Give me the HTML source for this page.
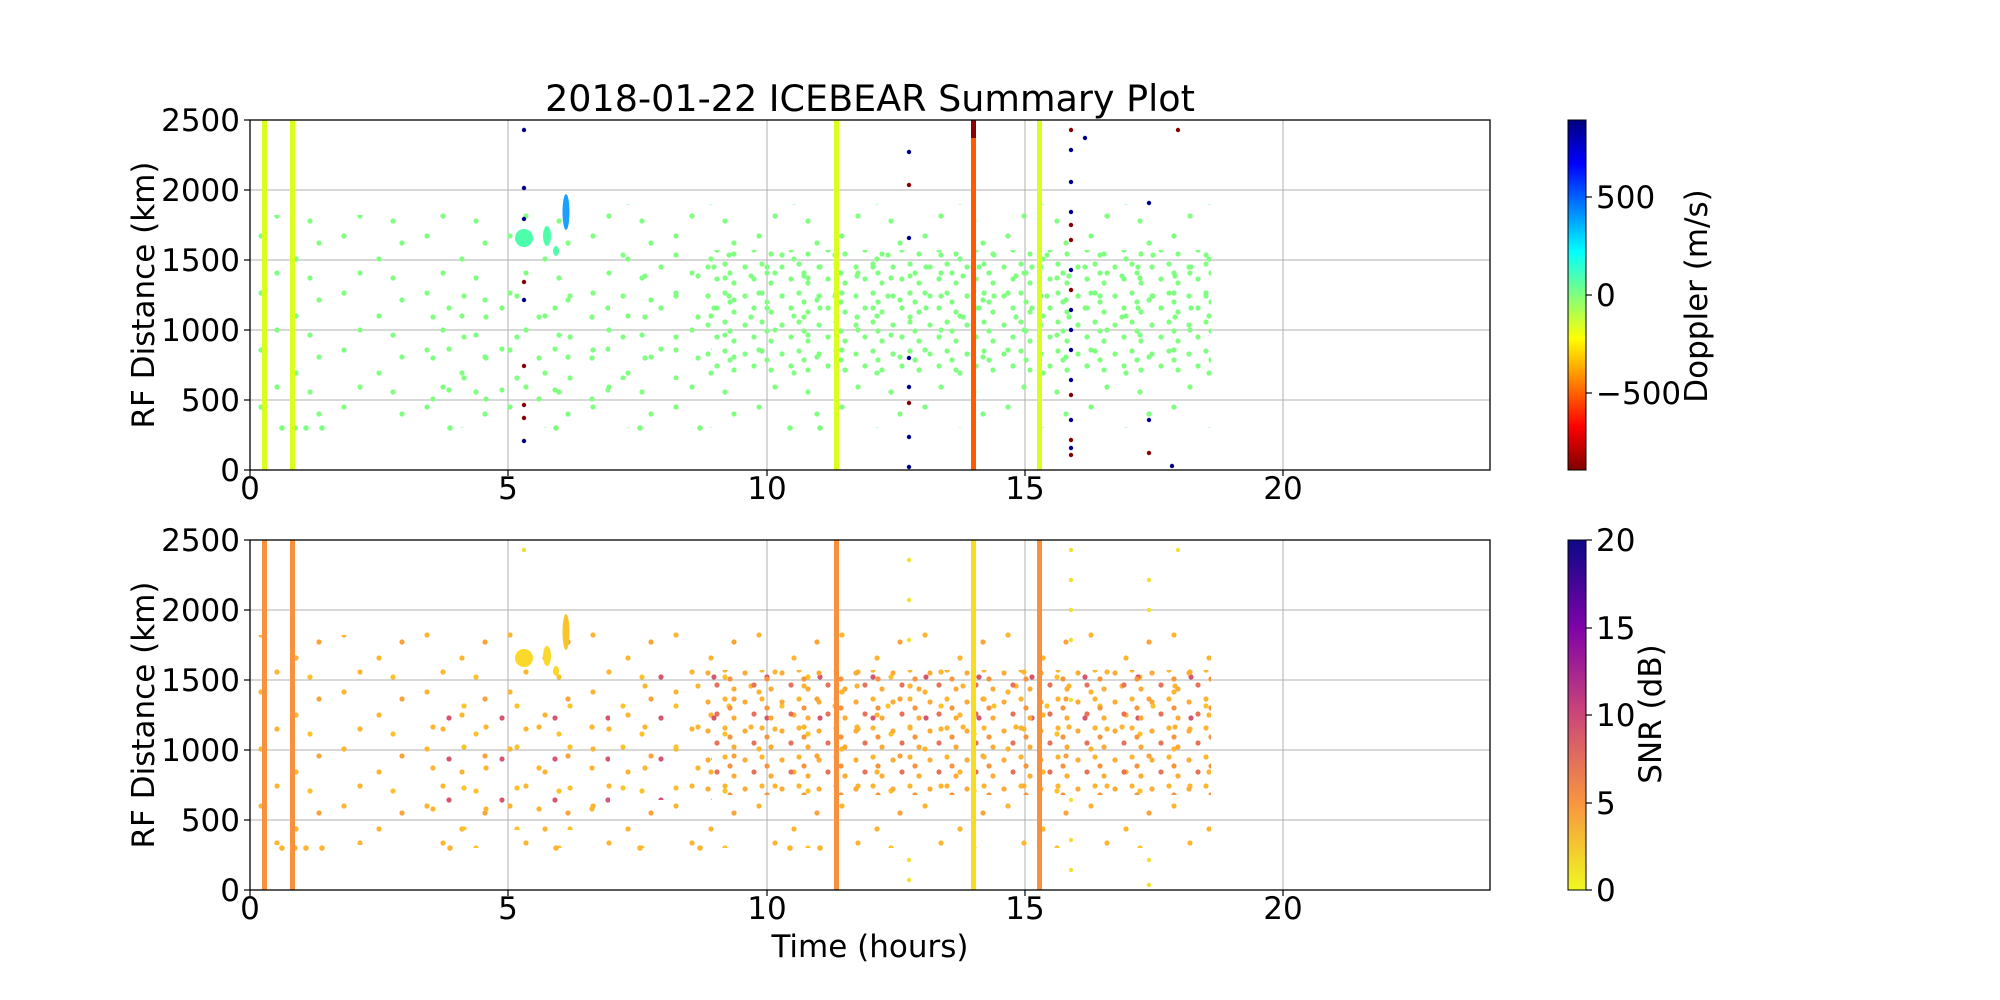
<!DOCTYPE html>
<html><head><meta charset="utf-8"><style>
html,body{margin:0;padding:0;background:#fff;}
svg{display:block;font-family:"DejaVu Sans","Liberation Sans",sans-serif;}
</style></head><body>
<svg width="2000" height="1000" viewBox="0 0 2000 1000" xmlns="http://www.w3.org/2000/svg">
<defs>
<linearGradient id="jet" x1="0" y1="0" x2="0" y2="1">
<stop offset="0" stop-color="#00007f"/><stop offset="0.125" stop-color="#0000ff"/><stop offset="0.375" stop-color="#00ffff"/><stop offset="0.5" stop-color="#7fff7f"/><stop offset="0.625" stop-color="#ffff00"/><stop offset="0.875" stop-color="#ff0000"/><stop offset="1" stop-color="#7f0000"/>
</linearGradient>
<linearGradient id="pl" x1="0" y1="0" x2="0" y2="1">
<stop offset="0" stop-color="#0d0887"/><stop offset="0.25" stop-color="#7e03a8"/><stop offset="0.5" stop-color="#cc4778"/><stop offset="0.75" stop-color="#f89540"/><stop offset="1" stop-color="#f0f921"/>
</linearGradient>
<pattern id="g1" patternUnits="userSpaceOnUse" width="83" height="57">
<g fill="#7fff7f"><circle cx="12" cy="8" r="2.6"/><circle cx="47" cy="31" r="2.6"/><circle cx="70" cy="15" r="2.6"/><circle cx="28" cy="45" r="2.6"/><circle cx="61" cy="50" r="2.6"/></g></pattern>
<pattern id="g2" patternUnits="userSpaceOnUse" width="37" height="29">
<g fill="#7fff7f"><circle cx="5" cy="6" r="2.6"/><circle cx="22" cy="3" r="2.6"/><circle cx="14" cy="18" r="2.6"/><circle cx="31" cy="22" r="2.6"/><circle cx="27" cy="12" r="2.6"/></g></pattern>
<pattern id="g3" patternUnits="userSpaceOnUse" width="53" height="41">
<g fill="#7fff7f"><circle cx="9" cy="30" r="2.6"/><circle cx="40" cy="9" r="2.6"/><circle cx="25" cy="21" r="2.6"/></g></pattern>
<pattern id="o1" patternUnits="userSpaceOnUse" width="83" height="57">
<g fill="#fdb42f"><circle cx="12" cy="8" r="2.6"/><circle cx="47" cy="31" r="2.6"/><circle cx="70" cy="15" r="2.6" fill="#fba238"/><circle cx="28" cy="45" r="2.6"/><circle cx="61" cy="50" r="2.6" fill="#fcc228"/></g></pattern>
<pattern id="o2" patternUnits="userSpaceOnUse" width="37" height="29">
<g fill="#fcab34"><circle cx="5" cy="6" r="2.6"/><circle cx="22" cy="3" r="2.6" fill="#fdb42f"/><circle cx="14" cy="18" r="2.6" fill="#e8715a"/><circle cx="31" cy="22" r="2.6"/><circle cx="27" cy="12" r="2.6" fill="#f7953f"/></g></pattern>
<pattern id="o3" patternUnits="userSpaceOnUse" width="53" height="41">
<g fill="#fdb42f"><circle cx="9" cy="30" r="2.6"/><circle cx="40" cy="9" r="2.6" fill="#fcc228"/><circle cx="25" cy="21" r="2.6" fill="#d65670"/></g></pattern>
</defs>
<g stroke="#b0b0b0" stroke-width="1">
<line x1="508" x2="508" y1="120" y2="470"/><line x1="767" x2="767" y1="120" y2="470"/><line x1="1025" x2="1025" y1="120" y2="470"/><line x1="1283" x2="1283" y1="120" y2="470"/>
<line x1="250" x2="1490" y1="400" y2="400"/><line x1="250" x2="1490" y1="330" y2="330"/><line x1="250" x2="1490" y1="260" y2="260"/><line x1="250" x2="1490" y1="190" y2="190"/>
<line x1="508" x2="508" y1="540" y2="890"/><line x1="767" x2="767" y1="540" y2="890"/><line x1="1025" x2="1025" y1="540" y2="890"/><line x1="1283" x2="1283" y1="540" y2="890"/>
<line x1="250" x2="1490" y1="820" y2="820"/><line x1="250" x2="1490" y1="750" y2="750"/><line x1="250" x2="1490" y1="680" y2="680"/><line x1="250" x2="1490" y1="610" y2="610"/>
</g>
<!-- top scatter -->
<rect x="250" y="215" width="155" height="210" fill="url(#g1)"/>
<rect x="405" y="210" width="207" height="218" fill="url(#g1)"/>
<rect x="430" y="280" width="180" height="130" fill="url(#g3)"/>
<rect x="612" y="204" width="599" height="224" fill="url(#g1)"/>
<rect x="612" y="250" width="599" height="70" fill="url(#g3)"/>
<rect x="700" y="250" width="511" height="125" fill="url(#g2)"/>
<rect x="612" y="310" width="100" height="70" fill="url(#g3)"/>
<g fill="#7fff7f"><circle cx="282" cy="428" r="2.8"/><circle cx="295" cy="428" r="2.8"/><circle cx="306" cy="428" r="2.8"/><circle cx="322" cy="428" r="2.8"/><circle cx="450" cy="428" r="2.8"/><circle cx="556" cy="428" r="2.8"/><circle cx="640" cy="428" r="2.8"/><circle cx="700" cy="428" r="2.8"/><circle cx="790" cy="428" r="2.8"/><circle cx="820" cy="428" r="2.8"/></g>
<!-- bottom scatter -->
<rect x="250" y="635" width="155" height="210" fill="url(#o1)"/>
<rect x="405" y="630" width="207" height="218" fill="url(#o1)"/>
<rect x="430" y="700" width="180" height="130" fill="url(#o3)"/>
<rect x="612" y="624" width="599" height="224" fill="url(#o1)"/>
<rect x="612" y="670" width="599" height="70" fill="url(#o3)"/>
<rect x="700" y="670" width="511" height="125" fill="url(#o2)"/>
<rect x="612" y="730" width="100" height="70" fill="url(#o3)"/>
<g fill="#fdb42f"><circle cx="282" cy="848" r="2.8"/><circle cx="295" cy="848" r="2.8"/><circle cx="306" cy="848" r="2.8"/><circle cx="322" cy="848" r="2.8"/><circle cx="450" cy="848" r="2.8"/><circle cx="556" cy="848" r="2.8"/><circle cx="640" cy="848" r="2.8"/><circle cx="700" cy="848" r="2.8"/><circle cx="790" cy="848" r="2.8"/><circle cx="820" cy="848" r="2.8"/></g>
<!-- clusters -->
<ellipse cx="524" cy="238" rx="9" ry="9" fill="#4dffaa"/><ellipse cx="547" cy="236" rx="4" ry="10" fill="#4dffaa"/><ellipse cx="556" cy="251" rx="3" ry="5" fill="#4dffaa"/><ellipse cx="566" cy="212" rx="3.5" ry="18" fill="#1aa0ff"/>
<ellipse cx="524" cy="658" rx="9" ry="9" fill="#fbd82a"/><ellipse cx="547" cy="656" rx="4" ry="10" fill="#fbd82a"/><ellipse cx="556" cy="671" rx="3" ry="5" fill="#fbd82a"/><ellipse cx="566" cy="632" rx="3.5" ry="18" fill="#f9c42a"/>
<!-- columns of dots -->
<g fill="#00008f">
<circle cx="524" cy="130" r="2.2"/><circle cx="524" cy="188" r="2.2"/><circle cx="524" cy="219" r="2.2"/><circle cx="524" cy="300" r="2.2"/><circle cx="524" cy="441" r="2.2"/>
<circle cx="909" cy="152" r="2.2"/><circle cx="909" cy="238" r="2.2"/><circle cx="909" cy="358" r="2.2"/><circle cx="909" cy="387" r="2.2"/><circle cx="909" cy="437" r="2.2"/><circle cx="909" cy="467" r="2.2"/>
<circle cx="1071" cy="150" r="2.2"/><circle cx="1071" cy="182" r="2.2"/><circle cx="1071" cy="212" r="2.2"/><circle cx="1071" cy="270" r="2.2"/><circle cx="1071" cy="310" r="2.2"/><circle cx="1071" cy="330" r="2.2"/><circle cx="1071" cy="350" r="2.2"/><circle cx="1071" cy="380" r="2.2"/><circle cx="1071" cy="420" r="2.2"/><circle cx="1071" cy="448" r="2.2"/>
<circle cx="1149" cy="203" r="2.2"/><circle cx="1149" cy="420" r="2.2"/><circle cx="1172" cy="466" r="2.2"/><circle cx="1085" cy="138" r="2.2"/>
</g>
<g fill="#8a0000">
<circle cx="524" cy="282" r="2.2"/><circle cx="524" cy="366" r="2.2"/><circle cx="524" cy="405" r="2.2"/><circle cx="524" cy="418" r="2.2"/>
<circle cx="909" cy="185" r="2.2"/><circle cx="909" cy="403" r="2.2"/>
<circle cx="1071" cy="130" r="2.2"/><circle cx="1071" cy="225" r="2.2"/><circle cx="1071" cy="240" r="2.2"/><circle cx="1071" cy="290" r="2.2"/><circle cx="1071" cy="395" r="2.2"/><circle cx="1071" cy="440" r="2.2"/><circle cx="1071" cy="455" r="2.2"/>
<circle cx="1149" cy="453" r="2.2"/><circle cx="1178" cy="130" r="2.2"/>
</g>
<g fill="#f0e030">
<circle cx="524" cy="550" r="2.2"/><circle cx="909" cy="560" r="2.2"/><circle cx="909" cy="600" r="2.2"/><circle cx="909" cy="640" r="2.2"/><circle cx="909" cy="860" r="2.2"/><circle cx="909" cy="880" r="2.2"/>
<circle cx="1071" cy="550" r="2.2"/><circle cx="1071" cy="580" r="2.2"/><circle cx="1071" cy="610" r="2.2"/><circle cx="1071" cy="640" r="2.2"/><circle cx="1071" cy="700" r="2.2"/><circle cx="1071" cy="800" r="2.2"/><circle cx="1071" cy="840" r="2.2"/><circle cx="1071" cy="870" r="2.2"/>
<circle cx="1149" cy="580" r="2.2"/><circle cx="1149" cy="610" r="2.2"/><circle cx="1149" cy="860" r="2.2"/><circle cx="1149" cy="885" r="2.2"/><circle cx="1178" cy="550" r="2.2"/>
</g>
<!-- vertical lines -->
<g fill="#d8ff1e"><rect x="262" y="120" width="5" height="350"/><rect x="290" y="120" width="5" height="350"/><rect x="834" y="120" width="5" height="350"/><rect x="1037" y="120" width="5" height="350"/></g>
<rect x="971" y="120" width="5" height="350" fill="#ff5a00"/><rect x="971" y="120" width="5" height="18" fill="#8a0000"/>
<g fill="#f7913e"><rect x="262" y="540" width="5" height="350"/><rect x="290" y="540" width="5" height="350"/><rect x="834" y="540" width="5" height="350"/><rect x="1037" y="540" width="5" height="350"/></g>
<rect x="971" y="540" width="5" height="350" fill="#f8dc22"/>
<!-- frames -->
<rect x="250" y="120" width="1240" height="350" fill="none" stroke="#000" stroke-width="1.3"/>
<rect x="250" y="540" width="1240" height="350" fill="none" stroke="#000" stroke-width="1.3"/>
<rect x="1568" y="120" width="18" height="350" fill="url(#jet)" stroke="#000" stroke-width="1"/>
<rect x="1568" y="540" width="18" height="350" fill="url(#pl)" stroke="#000" stroke-width="1"/>
<g stroke="#000" stroke-width="1.2">
<line x1="250" x2="250" y1="470" y2="476"/><line x1="508" x2="508" y1="470" y2="476"/><line x1="767" x2="767" y1="470" y2="476"/><line x1="1025" x2="1025" y1="470" y2="476"/><line x1="1283" x2="1283" y1="470" y2="476"/>
<line x1="250" x2="250" y1="890" y2="896"/><line x1="508" x2="508" y1="890" y2="896"/><line x1="767" x2="767" y1="890" y2="896"/><line x1="1025" x2="1025" y1="890" y2="896"/><line x1="1283" x2="1283" y1="890" y2="896"/>
<line x1="244" x2="250" y1="120" y2="120"/><line x1="244" x2="250" y1="190" y2="190"/><line x1="244" x2="250" y1="260" y2="260"/><line x1="244" x2="250" y1="330" y2="330"/><line x1="244" x2="250" y1="400" y2="400"/><line x1="244" x2="250" y1="470" y2="470"/>
<line x1="244" x2="250" y1="540" y2="540"/><line x1="244" x2="250" y1="610" y2="610"/><line x1="244" x2="250" y1="680" y2="680"/><line x1="244" x2="250" y1="750" y2="750"/><line x1="244" x2="250" y1="820" y2="820"/><line x1="244" x2="250" y1="890" y2="890"/>
<line x1="1586" x2="1592" y1="197" y2="197"/><line x1="1586" x2="1592" y1="295" y2="295"/><line x1="1586" x2="1592" y1="393" y2="393"/>
<line x1="1586" x2="1592" y1="540" y2="540"/><line x1="1586" x2="1592" y1="628" y2="628"/><line x1="1586" x2="1592" y1="715" y2="715"/><line x1="1586" x2="1592" y1="803" y2="803"/><line x1="1586" x2="1592" y1="890" y2="890"/>
</g>
<g font-size="31" fill="#000">
<text x="870" y="111" text-anchor="middle" font-size="36.5">2018-01-22 ICEBEAR Summary Plot</text>
<g text-anchor="end">
<text x="240" y="131">2500</text><text x="240" y="201">2000</text><text x="240" y="271">1500</text><text x="240" y="341">1000</text><text x="240" y="411">500</text><text x="240" y="481">0</text>
<text x="240" y="551">2500</text><text x="240" y="621">2000</text><text x="240" y="691">1500</text><text x="240" y="761">1000</text><text x="240" y="831">500</text><text x="240" y="901">0</text>
</g>
<g text-anchor="middle">
<text x="250" y="499">0</text><text x="508" y="499">5</text><text x="767" y="499">10</text><text x="1025" y="499">15</text><text x="1283" y="499">20</text>
<text x="250" y="919">0</text><text x="508" y="919">5</text><text x="767" y="919">10</text><text x="1025" y="919">15</text><text x="1283" y="919">20</text>
<text x="870" y="957">Time (hours)</text>
<text transform="translate(154,295) rotate(-90)">RF Distance (km)</text>
<text transform="translate(154,715) rotate(-90)">RF Distance (km)</text>
<text transform="translate(1707,296) rotate(-90)">Doppler (m/s)</text>
<text transform="translate(1661,714) rotate(-90)">SNR (dB)</text>
</g>
<g text-anchor="start">
<text x="1596" y="208">500</text><text x="1596" y="306">0</text><text x="1596" y="404">−500</text>
<text x="1596" y="551">20</text><text x="1596" y="639">15</text><text x="1596" y="726">10</text><text x="1596" y="814">5</text><text x="1596" y="901">0</text>
</g>
</g>
</svg>
</body></html>
